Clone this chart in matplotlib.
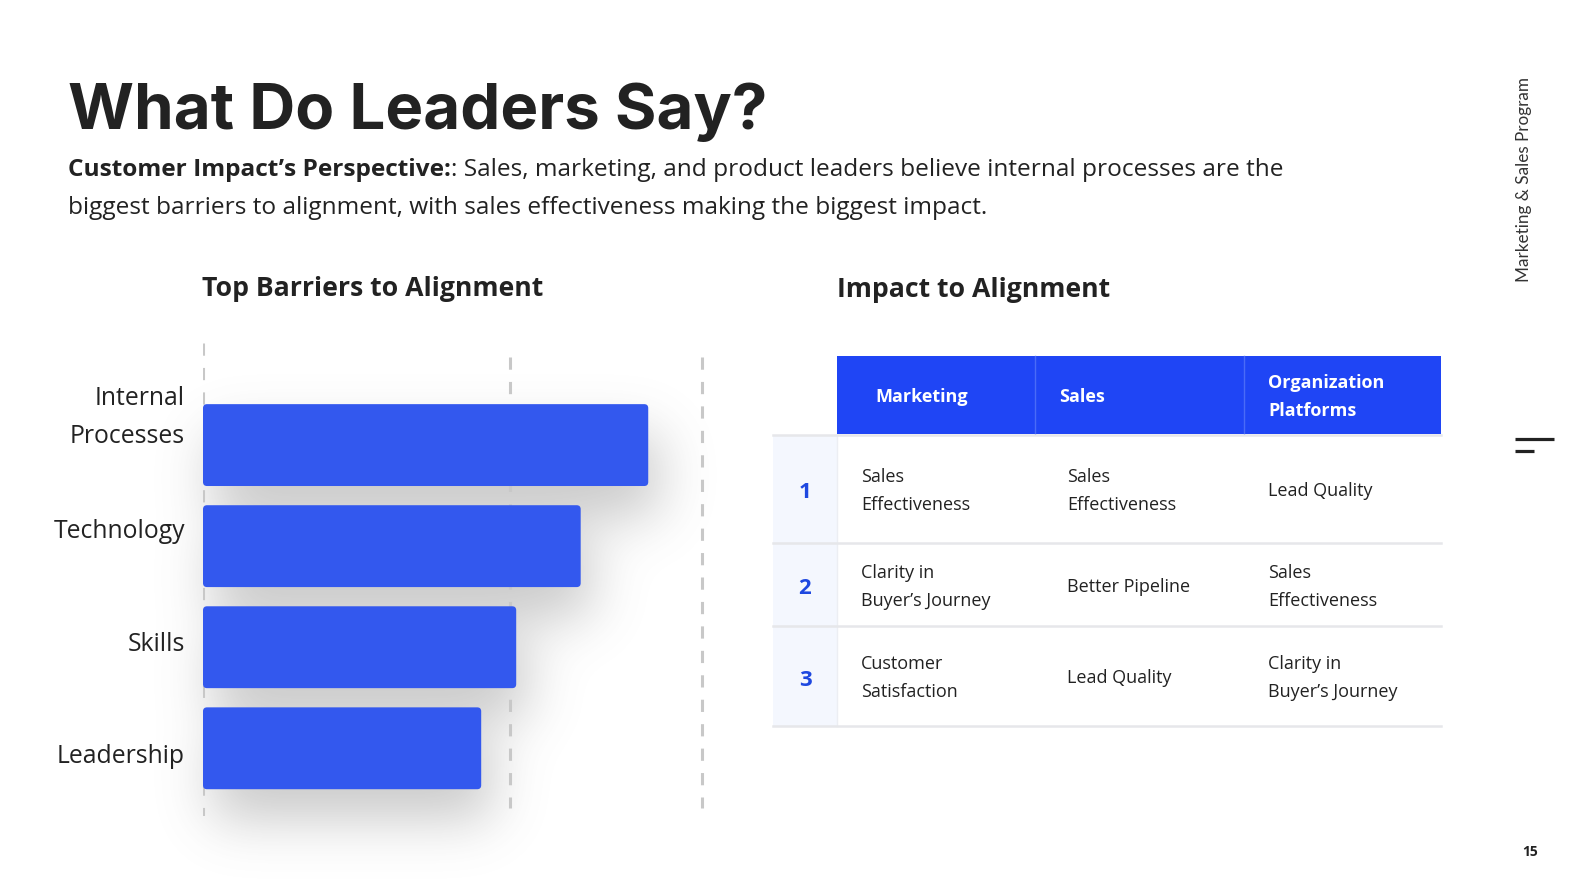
import numpy as np
import matplotlib
matplotlib.use("Agg")
import matplotlib.pyplot as plt
from matplotlib.patches import Rectangle, FancyBboxPatch

# ---- data ----
categories = ["Internal\nProcesses", "Technology", "Skills", "Leadership"]
values = [72.5, 61.5, 51, 45.3]
grid_x = [0, 50, 81.3]

table_cols = ["Marketing", "Sales", "Organization\nPlatforms"]
table_rank = ["1", "2", "3"]
table_rows = [
    ["Sales\nEffectiveness", "Sales\nEffectiveness", "Lead Quality"],
    ["Clarity in\nBuyer\u2019s Journey", "Better Pipeline", "Sales\nEffectiveness"],
    ["Customer\nSatisfaction", "Lead Quality", "Clarity in\nBuyer\u2019s Journey"],
]

title = "What Do Leaders Say?"
lead_bold = "Customer Impact\u2019s Perspective:"
lead_rest = ": Sales, marketing, and product leaders believe internal processes are the"
lead_line2 = "biggest barriers to alignment, with sales effectiveness making the biggest impact."

BAR_C = "#3358EE"
HEAD_C = "#1F45F5"
NUM_C = "#1E48E0"
TXT = "#222222"

W, H = 1584, 891
fig = plt.figure(figsize=(W / 100, H / 100), dpi=100)
fig.patch.set_facecolor("white")

# overlay axes in pixel coords (origin bottom-left, helper Y flips)
ov = fig.add_axes([0, 0, 1, 1], zorder=0)
ov.set_xlim(0, W)
ov.set_ylim(0, H)
ov.axis("off")


def Y(y):
    return H - y


# ---- bar chart axes ----
x0, x1 = 203, 725
ytop, ybot = 343, 816
ax = fig.add_axes([x0 / W, (H - ybot) / H, (x1 - x0) / W, (ybot - ytop) / H], zorder=2)
ax.patch.set_alpha(0)
ax.set_xlim(0, 85)
ax.set_ylim(3.67, -1.01)
for s in ax.spines.values():
    s.set_visible(False)
ax.set_xticks([])

ypos = np.arange(len(categories))
bh = 0.81
# rounded bars; aspect corrects for unequal x/y units
ux = 85 / (x1 - x0)
uy = 4.68 / (ybot - ytop)
for i, v in enumerate(values):
    ax.add_patch(FancyBboxPatch((0, i - bh / 2), v, bh,
                                boxstyle="round,pad=0,rounding_size=%f" % (4 * ux),
                                mutation_aspect=uy / ux, facecolor=BAR_C,
                                edgecolor="none", zorder=3))

# grid lines
ax.vlines(grid_x[0], -1.01, 3.67, colors="#c8c8c8", linestyles=(0, (4, 4)), lw=2.2, zorder=1)
ax.vlines(grid_x[1:], -0.87, 3.59, colors="#c8c8c8", linestyles=(0, (4, 4)), lw=2.2, zorder=1)

# labels (offset from bars as in the source)
label_y = -0.29 + ypos * 1.115
label_y[0] -= 0.08  # two-line label sits a bit higher
ax.set_yticks(label_y)
ax.set_yticklabels(categories, fontsize=17.8, family="Open Sans", color=TXT, linespacing=1.72)
ax.tick_params(axis="y", length=0, pad=13)

# soft drop shadow under bars, built from the bar rectangles
sx0, sx1, sy0, sy1 = 100, 820, 330, 891
mask = np.zeros((sy1 - sy0, sx1 - sx0))
for i, v in enumerate(values):
    (px0, py0), (px1, py1) = ax.transData.transform([(0, i + bh / 2), (v, i - bh / 2)])
    t, b = H - py1, H - py0
    off_x, off_y = 10, 30
    r0 = int(max(t + off_y - sy0, 0)); r1 = int(min(b + off_y - sy0, sy1 - sy0))
    c0 = int(px0 + off_x - sx0); c1 = int(px1 + off_x - sx0)
    mask[r0:r1, c0:c1] = 1.0
sig = 27
kx = np.arange(-3 * sig, 3 * sig + 1)
k = np.exp(-kx ** 2 / (2 * sig ** 2)); k /= k.sum()
blur = np.apply_along_axis(lambda r: np.convolve(r, k, mode="same"), 0, mask)
blur = np.apply_along_axis(lambda r: np.convolve(r, k, mode="same"), 1, blur)
rgba = np.zeros(blur.shape + (4,))
rgba[..., :3] = 0.35
rgba[..., 3] = np.clip(blur, 0, 1) * 0.33
ov.imshow(rgba, extent=[sx0, sx1, Y(sy1), Y(sy0)], origin="upper", zorder=1,
          interpolation="bilinear", aspect="auto")

# ---- titles ----
ov.text(68, Y(129), title, fontsize=45.8, fontweight="bold", family="Inter",
        color=TXT, va="baseline", ha="left")
fig.canvas.draw()
r = fig.canvas.get_renderer()
tb = ov.text(68, Y(170), lead_bold, fontsize=17.6, fontweight="bold", family="Open Sans",
             color=TXT, va="center", ha="left")
ext = tb.get_window_extent(renderer=r)
ov.text(ext.x1, Y(170), lead_rest, fontsize=17.6, family="Open Sans", color=TXT,
        va="center", ha="left")
ov.text(68, Y(208), lead_line2, fontsize=17.6, family="Open Sans", color=TXT,
        va="center", ha="left")

ov.text(202, Y(289), "Top Barriers to Alignment", fontsize=19.2, fontweight="bold",
        family="Open Sans", color=TXT, va="center", ha="left")
ov.text(837, Y(290), "Impact to Alignment", fontsize=19.2, fontweight="bold",
        family="Open Sans", color=TXT, va="center", ha="left")

# ---- table ----
tx0, tx1 = 837, 1441
col_x = [837, 1035, 1244, 1441]
text_x_head = [875, 1059, 1268]
text_x_body = [861, 1067, 1268]
head_top, head_bot = 356, 434
row_edges = [435, 543, 626, 726]
idx_x0 = 773

ov.add_patch(Rectangle((tx0, Y(head_bot)), tx1 - tx0, head_bot - head_top,
                       facecolor=HEAD_C, edgecolor="none", zorder=2))
for cx in col_x[1:-1]:
    ov.plot([cx, cx], [Y(head_top), Y(head_bot)], color="#4a6bf7", lw=1, zorder=3)
ov.add_patch(Rectangle((idx_x0, Y(row_edges[-1])), tx0 - idx_x0, row_edges[-1] - row_edges[0],
                       facecolor="#F4F7FE", edgecolor="none", zorder=2))
ov.plot([tx0, tx0], [Y(row_edges[0]), Y(row_edges[-1])], color="#eceef3", lw=1, zorder=3)
for ry in row_edges:
    ov.plot([idx_x0, tx1], [Y(ry), Y(ry)], color="#e6e7ea", lw=1.8, zorder=3)

head_c = (head_top + head_bot) / 2 + 2


def cell_text(x, yc, s, **kw):
    lines = s.split("\n")
    pitch = kw.pop("pitch", 28)
    n = len(lines)
    for j, ln in enumerate(lines):
        yy = yc + (j - (n - 1) / 2) * pitch
        ov.text(x, Y(yy), ln, va="center", ha="left", zorder=4, **kw)


for j, c in enumerate(table_cols):
    cell_text(text_x_head[j], head_c, c, fontsize=13, fontweight="bold",
              family="Open Sans", color="white", pitch=28)

for i, row in enumerate(table_rows):
    yc = (row_edges[i] + row_edges[i + 1]) / 2 + 2
    ov.text((idx_x0 + tx0) / 2, Y(yc + 2), table_rank[i], fontsize=16, fontweight="bold",
            family="Open Sans", color=NUM_C, va="center", ha="center", zorder=4)
    for j, s in enumerate(row):
        cell_text(text_x_body[j], yc, s, fontsize=13, family="Open Sans", color=TXT, pitch=28)

# ---- right margin decorations ----
ov.text(1524, Y(179), "Marketing & Sales Program", rotation=90, fontsize=12.3,
        family="Lato", color="#333333", va="center", ha="center")
ov.plot([1515, 1554], [Y(439), Y(439)], color=TXT, lw=2.3, solid_capstyle="butt")
ov.plot([1515, 1534], [Y(451), Y(451)], color=TXT, lw=2.3, solid_capstyle="butt")
ov.text(1530, Y(852), "15", fontsize=10, fontweight="bold", family="Open Sans",
        color=TXT, va="center", ha="center")

fig.savefig("out.png", dpi=100, facecolor="white")
